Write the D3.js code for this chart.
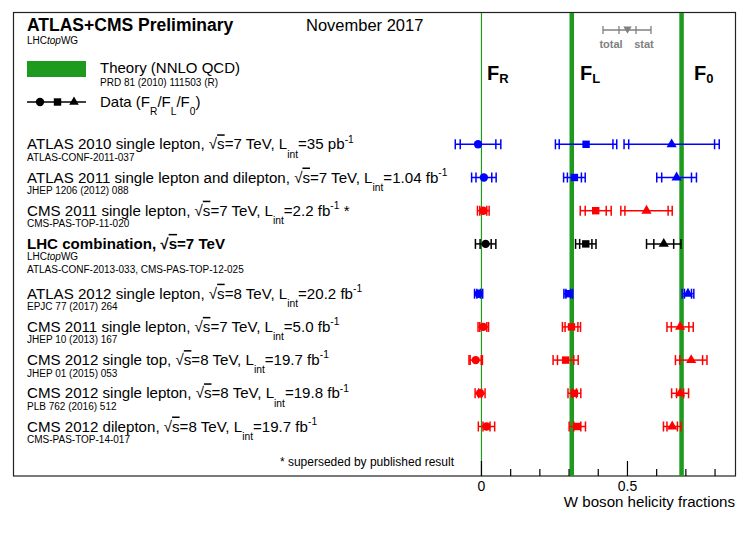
<!DOCTYPE html>
<html>
<head>
<meta charset="utf-8">
<script src="https://cdn.jsdelivr.net/npm/d3@7"></script>
<style>
  body { margin: 0; background: #fff; }
  text { font-family: "Liberation Sans", Arial, Helvetica, sans-serif; white-space: pre; }
</style>
</head>
<body>
<script>
// measurements, top to bottom
var labels = [
  "ATLAS 2010 single lepton, #sqrt{s}=7 TeV, L_{int}=35 pb^{-1}",
  "ATLAS 2011 single lepton and dilepton, #sqrt{s}=7 TeV, L_{int}=1.04 fb^{-1}",
  "CMS 2011 single lepton, #sqrt{s}=7 TeV, L_{int}=2.2 fb^{-1} *",
  "LHC combination, #sqrt{s}=7 TeV",
  "ATLAS 2012 single lepton, #sqrt{s}=8 TeV, L_{int}=20.2 fb^{-1}",
  "CMS 2011 single lepton, #sqrt{s}=7 TeV, L_{int}=5.0 fb^{-1}",
  "CMS 2012 single top, #sqrt{s}=8 TeV, L_{int}=19.7 fb^{-1}",
  "CMS 2012 single lepton, #sqrt{s}=8 TeV, L_{int}=19.8 fb^{-1}",
  "CMS 2012 dilepton, #sqrt{s}=8 TeV, L_{int}=19.7 fb^{-1}"
];
var refs = [
  "ATLAS-CONF-2011-037",
  "JHEP 1206 (2012) 088",
  "CMS-PAS-TOP-11-020",
  "LHC#it{top}WG|ATLAS-CONF-2013-033, CMS-PAS-TOP-12-025",
  "EPJC 77 (2017) 264",
  "JHEP 10 (2013) 167",
  "JHEP 01 (2015) 053",
  "PLB 762 (2016) 512",
  "CMS-PAS-TOP-14-017"
];
var experiment = ["ATLAS", "ATLAS", "CMS", "LHC", "ATLAS", "CMS", "CMS", "CMS", "CMS"];

var fR      = [-0.010, 0.010, 0.008, 0.016, -0.008, 0.008, -0.018, -0.003, 0.019];
var fRtotal = [ 0.078, 0.042, 0.020, 0.035,  0.014, 0.018,  0.023,  0.017, 0.028];
var fRstat  = [ 0.061, 0.027, 0.012, 0.019,  0.006, 0.012,  0.019,  0.005, 0.012];

var fL      = [ 0.360, 0.320, 0.393, 0.359,  0.299, 0.310,  0.290,  0.320, 0.330];
var fLtotal = [ 0.105, 0.037, 0.053, 0.035,  0.015, 0.031,  0.043,  0.022, 0.028];
var fLstat  = [ 0.092, 0.024, 0.036, 0.021,  0.008, 0.022,  0.028,  0.007, 0.012];

var f0      = [ 0.653, 0.670, 0.567, 0.626,  0.709, 0.682,  0.720,  0.682, 0.655];
var f0total = [ 0.163, 0.068, 0.088, 0.059,  0.020, 0.045,  0.054,  0.029, 0.030];
var f0stat  = [ 0.147, 0.051, 0.074, 0.034,  0.012, 0.030,  0.039,  0.012, 0.018];

// NNLO QCD prediction (F_R, F_L, F_0)
var theory = [0.0017, 0.311, 0.687];
var fracNames = ["R", "L", "0"];
var tickMajor = [0, 0.5];
var tickMinor = [0.1, 0.2, 0.3, 0.4, 0.6, 0.7, 0.8];

var w = 747;
var h = 536;
var font = 15.1;
var green = "#1e9a1e";

var svg = d3.select("body")
  .append("svg")
  .attr("width", w)
  .attr("height", h);

var x = d3.scaleLinear().domain([-0.03, 0.87]).range([472.2, 735]);
var y = d3.scaleLinear().domain([0, 8.5]).range([144.3, 426.5]);
var color = d3.scaleOrdinal().domain(["ATLAS", "CMS", "LHC"]).range(["#0000ff", "#ff0000", "#000000"]);

// rows after the combination are pushed down by half a row
function slot(i) { return i >= 4 ? i + 0.5 : i; }

// small ROOT-like latex: _{sub} ^{sup} #sqrt{} #it{}
function rich(sel, str, size) {
  var parts = str.split(/(_\{[^}]*\}|\^\{[^}]*\}|#sqrt\{[^}]*\}|#it\{[^}]*\})/);
  var shift = 0;
  parts.forEach(function(p) {
    if (!p) return;
    var target = 0, fs = size, txt = p;
    if (p[0] === "_") { target = 0.55 * size; fs = 0.68 * size; txt = p.slice(2, -1); }
    else if (p[0] === "^") { target = -0.45 * size; fs = 0.68 * size; txt = p.slice(2, -1); }
    if (p.indexOf("#sqrt") === 0) {
      sel.append("tspan").attr("dy", -shift).style("font-size", size + "px").text("\u221a");
      sel.append("tspan").style("font-size", size + "px")
        .style("text-decoration", "overline").text(p.slice(6, -1));
      shift = 0;
      return;
    }
    if (p.indexOf("#it") === 0) {
      sel.append("tspan").attr("dy", -shift).style("font-size", size + "px")
        .style("font-style", "italic").text(p.slice(4, -1));
      shift = 0;
      return;
    }
    sel.append("tspan").attr("dy", target - shift).style("font-size", fs + "px").text(txt);
    shift = target;
  });
}

// frame
svg.append("rect")
  .attr("x", 13.5).attr("y", 12.5)
  .attr("width", 722).attr("height", 463.5)
  .attr("fill", "none").attr("stroke", "#222").attr("stroke-width", 1.2);

// theory lines
svg.selectAll("line.theory")
  .data(theory)
  .enter()
  .append("line")
  .attr("class", "theory")
  .attr("x1", d => x(d)).attr("x2", d => x(d))
  .attr("y1", 13).attr("y2", 476)
  .attr("stroke", green)
  .attr("stroke-width", (d, i) => i === 0 ? 1.2 : 4.5);

// F labels
var fx = [487, 580, 694];
fracNames.forEach(function(n, i) {
  var t = svg.append("text").attr("x", fx[i]).attr("y", 80)
    .style("font-size", "20px").style("font-weight", "bold");
  t.append("tspan").text("F");
  t.append("tspan").attr("dy", 3).style("font-size", "13px").text(n);
});

// axis: minor and major ticks pointing up into the frame
svg.append("g")
  .attr("transform", "translate(0,476)")
  .call(d3.axisBottom(x).tickValues(tickMinor).tickSize(-7).tickFormat(""))
  .call(g => g.select(".domain").remove());
svg.append("g")
  .attr("transform", "translate(0,476)")
  .call(d3.axisBottom(x).tickValues(tickMajor).tickSize(-15).tickPadding(5).tickFormat(d => d))
  .call(g => g.select(".domain").remove())
  .call(g => g.selectAll("text").style("font-size", "14px").attr("font-family", null));
svg.selectAll(".tick line").attr("stroke", "#000").attr("stroke-width", 1.2);

svg.append("text")
  .attr("x", 735).attr("y", 507)
  .attr("text-anchor", "end")
  .style("font-size", font + "px")
  .text("W boson helicity fractions");

// header
svg.append("text").attr("x", 27).attr("y", 31)
  .style("font-size", "17.5px").style("font-weight", "bold")
  .text("ATLAS+CMS Preliminary");
rich(svg.append("text").attr("x", 27).attr("y", 44), "LHC#it{top}WG", 10);
svg.append("text").attr("x", 306).attr("y", 31)
  .style("font-size", "16.5px")
  .text("November 2017");

// legend: theory
svg.append("rect").attr("x", 27).attr("y", 61).attr("width", 59).attr("height", 16).attr("fill", green);
svg.append("text").attr("x", 100).attr("y", 73).style("font-size", "15px").text("Theory (NNLO QCD)");
svg.append("text").attr("x", 100).attr("y", 86).style("font-size", "10px").text("PRD 81 (2010) 111503 (R)");

// legend: data
svg.append("line").attr("x1", 27).attr("x2", 86).attr("y1", 102).attr("y2", 102)
  .attr("stroke", "#000").attr("stroke-width", 1.5);
var legSyms = [d3.symbolCircle, d3.symbolSquare, d3.symbolTriangle];
var legX = [40, 57.5, 74];
legSyms.forEach(function(s, i) {
  svg.append("path")
    .attr("d", d3.symbol().type(s).size(i === 2 ? 40 : 55)())
    .attr("transform", "translate(" + legX[i] + ",102)");
});
rich(svg.append("text").attr("x", 100).attr("y", 107),
  "Data (F_{R}/F_{L}/F_{0})", 15);

// legend: total / stat
var gray = "#808080";
var lg = svg.append("g").attr("stroke", gray).attr("stroke-width", 1.3);
lg.append("line").attr("x1", 603).attr("x2", 651).attr("y1", 30).attr("y2", 30);
[603, 619, 636, 651].forEach(function(px) {
  lg.append("line").attr("x1", px).attr("x2", px).attr("y1", 26).attr("y2", 34);
});
svg.append("path")
  .attr("d", d3.symbol().type(d3.symbolTriangle).size(30)())
  .attr("transform", "translate(627.5,29) rotate(180)")
  .attr("fill", gray);
svg.append("text").attr("x", 611).attr("y", 48).attr("text-anchor", "middle")
  .style("font-size", "11px").style("font-weight", "bold").attr("fill", gray).text("total");
svg.append("text").attr("x", 644).attr("y", 48).attr("text-anchor", "middle")
  .style("font-size", "11px").style("font-weight", "bold").attr("fill", gray).text("stat");

// row labels
labels.forEach(function(l, i) {
  var yy = y(slot(i));
  var t = svg.append("text").attr("x", 27).attr("y", yy + 5);
  if (experiment[i] === "LHC") t.style("font-weight", "bold");
  rich(t, l, font);
  refs[i].split("|").forEach(function(r, j) {
    rich(svg.append("text").attr("x", 27).attr("y", yy + 16.5 + 13 * j), r, 10);
  });
});

svg.append("text")
  .attr("x", 454).attr("y", 466)
  .attr("text-anchor", "end")
  .style("font-size", "12px")
  .text("* superseded by published result");

// points
var points = [];
labels.forEach(function(l, i) {
  points.push({i: i, k: 0, v: fR[i], tot: fRtotal[i], stat: fRstat[i]});
  points.push({i: i, k: 1, v: fL[i], tot: fLtotal[i], stat: fLstat[i]});
  points.push({i: i, k: 2, v: f0[i], tot: f0total[i], stat: f0stat[i]});
});

var pg = svg.selectAll("g.pt")
  .data(points)
  .enter()
  .append("g")
  .attr("class", "pt")
  .attr("stroke", d => color(experiment[d.i]))
  .attr("fill", d => color(experiment[d.i]))
  .attr("stroke-width", 1.5);

pg.append("line")
  .attr("x1", d => x(d.v - d.tot)).attr("x2", d => x(d.v + d.tot))
  .attr("y1", d => y(slot(d.i))).attr("y2", d => y(slot(d.i)));

[["tot", -1], ["tot", 1], ["stat", -1], ["stat", 1]].forEach(function(e) {
  pg.append("line")
    .attr("x1", d => x(d.v + e[1] * d[e[0]])).attr("x2", d => x(d.v + e[1] * d[e[0]]))
    .attr("y1", d => y(slot(d.i)) - 5).attr("y2", d => y(slot(d.i)) + 5);
});

pg.append("path")
  .attr("stroke", "none")
  .attr("d", d => d3.symbol().type(legSyms[d.k]).size(d.k === 2 ? 45 : 55)())
  .attr("transform", d => "translate(" + x(d.v) + "," + y(slot(d.i)) + ")");
</script>
</body>
</html>
